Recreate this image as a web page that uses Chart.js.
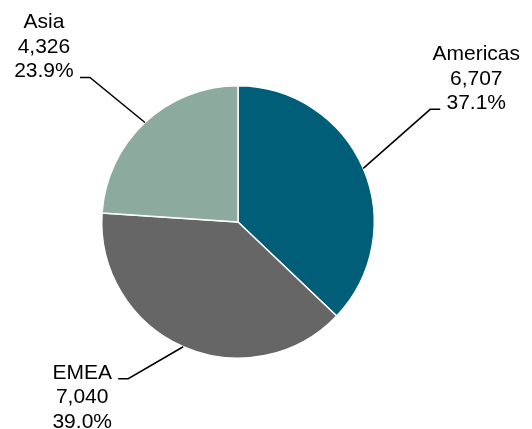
<!DOCTYPE html>
<html>
<head>
<meta charset="utf-8">
<script src="https://cdn.jsdelivr.net/npm/chart.js@4/dist/chart.umd.min.js"></script>
<style>
  html, body { margin: 0; padding: 0; background: #fff; }
  #wrap { width: 532px; height: 429px; }
</style>
</head>
<body>
<div id="wrap"><canvas id="regionPie"></canvas></div>
<script>
// sales by region
const regions = ["Americas", "EMEA", "Asia"];
const regionValues = [6707, 7040, 4326];
const regionColors = ["#015e79", "#666666", "#8cab9e"];

// where each label's leader line bends, relative to the slice edge
const leaderBends = [[67, -59], [-55, 32], [-55, -45]];

const total = regionValues.reduce((a, b) => a + b, 0);

const calloutLabels = {
    id: "calloutLabels",
    afterDatasetsDraw(chart) {
        const ctx = chart.ctx;
        const meta = chart.getDatasetMeta(0);
        const lineHeight = 24.5;
        ctx.save();
        ctx.font = "21px 'Liberation Sans', Arial, sans-serif";
        ctx.fillStyle = "#000";
        ctx.strokeStyle = "#000";
        ctx.lineWidth = 1.5;
        ctx.textAlign = "center";
        ctx.textBaseline = "alphabetic";
        meta.data.forEach((arc, i) => {
            const mid = (arc.startAngle + arc.endAngle) / 2;
            const r = arc.outerRadius;
            const ex = arc.x + Math.cos(mid) * r;
            const ey = arc.y + Math.sin(mid) * r;
            const bx = ex + leaderBends[i][0];
            const by = ey + leaderBends[i][1];
            const dir = bx > arc.x ? 1 : -1;

            ctx.beginPath();
            ctx.moveTo(ex, ey);
            ctx.lineTo(bx, by);
            ctx.lineTo(bx + dir * 10, by);
            ctx.stroke();

            const value = regionValues[i];
            const lines = [
                regions[i],
                value.toLocaleString("en-US"),
                (value / total * 100).toFixed(1) + "%"
            ];
            const cx = bx + dir * 46;
            // labels above the centre sit on the line, labels below hang from it
            const firstY = by < arc.y ? by - lineHeight * (lines.length - 1) : by;
            lines.forEach((t, k) => ctx.fillText(t, cx, firstY + k * lineHeight));
        });
        ctx.restore();
    }
};

const ctx = document.getElementById("regionPie").getContext("2d");
new Chart(ctx, {
    type: "pie",
    data: {
        labels: regions,
        datasets: [{
            data: regionValues,
            backgroundColor: regionColors,
            borderColor: "#ffffff",
            borderWidth: 1.5
        }]
    },
    options: {
        responsive: true,
        maintainAspectRatio: false,
        animation: false,
        layout: {
            padding: { top: 85, bottom: 70, left: 101, right: 157 }
        },
        plugins: {
            legend: { display: false },
            tooltip: { enabled: false }
        }
    },
    plugins: [calloutLabels]
});
</script>
</body>
</html>
